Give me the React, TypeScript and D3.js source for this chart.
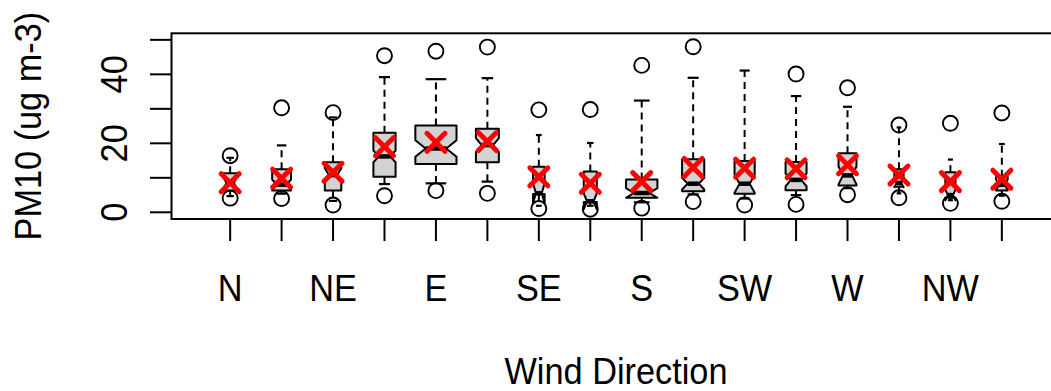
import React from "react";
import * as d3 from "d3";

const categories = ["N", "NNE", "NE", "ENE", "E", "ESE", "SE", "SSE", "S", "SSW", "SW", "WSW", "W", "WNW", "NW", "NNW"];
const xTickLabels = ["N", "", "NE", "", "E", "", "SE", "", "S", "", "SW", "", "W", "", "NW", ""];
const lowerWhisker = [4.7, 5.4, 3.3, 8.2, 8.4, 8.9, 1.9, 1.9, 2.9, 5.2, 4.0, 5.0, 7.0, 5.5, 3.5, 4.8];
const lowerHinge = [6.3, 6.3, 6.3, 10.3, 14.0, 14.5, 5.3, 3.0, 4.2, 6.1, 5.4, 6.4, 7.8, 7.4, 4.2, 6.3];
const medians = [8.5, 8.0, 10.8, 16.2, 18.5, 19.5, 5.5, 3.2, 5.6, 8.3, 8.3, 9.4, 10.7, 8.5, 5.0, 8.0];
const upperHinge = [11.3, 12.5, 14.5, 23.1, 25.2, 24.2, 13.2, 11.8, 9.5, 15.4, 14.9, 14.6, 17.1, 12.5, 11.6, 10.3];
const upperWhisker = [15.8, 19.4, 27.5, 39.2, 38.6, 38.9, 22.4, 20.1, 32.4, 39.0, 41.1, 33.7, 30.6, 24.6, 15.3, 19.8];
const notchHalf = [2.0, 1.5, 2.0, 1.7, 2.4, 2.0, 2.9, 2.3, 1.4, 1.7, 2.6, 1.9, 2.6, 1.2, 1.5, 1.5];
const obsCount = [13, 21, 16, 29, 100, 31, 8, 10, 58, 29, 24, 26, 19, 5, 6, 8];
const outliers = [
  [4.1, 16.4], [4.0, 30.3], [2.1, 28.9], [4.8, 45.4], [6.3, 46.7], [5.5, 47.9],
  [1.1, 29.7], [0.9, 29.8], [1.2, 42.6], [3.1, 48.0], [2.1], [2.3, 40.1],
  [5.1, 36.1], [4.2, 25.3], [2.6, 25.8], [3.2, 28.8],
];
const means = [8.6, 9.9, 11.6, 19.0, 20.3, 20.5, 10.3, 8.4, 8.9, 13.0, 12.8, 12.6, 13.8, 10.8, 8.9, 9.6];
const yTicks = [0, 10, 20, 30, 40, 50];
const yTickLabels = ["0", "", "20", "", "40", ""];
const xTitle = "Wind Direction";
const yTitle = "PM10 (ug m-3)";

const W = 1051;
const H = 391;
const FONT = "'Liberation Sans', Arial, Helvetica, sans-serif";
const FS = 36.5;
const SX = 0.94;

export default function App() {
  const n = categories.length;
  const x = d3.scaleLinear().domain([0.5 - 0.04 * n, n + 0.5 + 0.04 * n]).range([171.5, 1060.5]);
  const y = d3.scaleLinear().domain([-1.94, 51.9]).range([219, 33.3]);
  const step = x(2) - x(1);
  const maxN = d3.max(obsCount) as number;
  const plotLeft = x.range()[0];
  const plotRight = x.range()[1];
  const plotTop = y.range()[1];
  const plotBottom = y.range()[0];

  const boxes = categories.map((c, i) => {
    const cx = x(i + 1);
    const w = (Math.sqrt(obsCount[i] / maxN) * 0.8 * step) / 2;
    const q1 = lowerHinge[i], q3 = upperHinge[i], md = medians[i];
    const c1 = md - notchHalf[i], c2 = md + notchHalf[i];
    const pts: [number, number][] = [
      [cx - w, y(q1)], [cx + w, y(q1)], [cx + w, y(c1)], [cx + w / 2, y(md)], [cx + w, y(c2)],
      [cx + w, y(q3)], [cx - w, y(q3)], [cx - w, y(c2)], [cx - w / 2, y(md)], [cx - w, y(c1)],
    ];
    const poly = pts.map((p) => p.join(",")).join(" ");
    return (
      <g key={c}>
        <line x1={cx} x2={cx} y1={y(upperHinge[i])} y2={y(upperWhisker[i])} stroke="#000" strokeWidth={2} strokeDasharray="7 5" />
        <line x1={cx} x2={cx} y1={y(lowerHinge[i])} y2={y(lowerWhisker[i])} stroke="#000" strokeWidth={2} strokeDasharray="7 5" />
        <line x1={cx - w / 2} x2={cx + w / 2} y1={y(upperWhisker[i])} y2={y(upperWhisker[i])} stroke="#000" strokeWidth={2.2} />
        <line x1={cx - w / 2} x2={cx + w / 2} y1={y(lowerWhisker[i])} y2={y(lowerWhisker[i])} stroke="#000" strokeWidth={2.2} />
        <polygon points={poly} fill="#d3d3d3" stroke="#000" strokeWidth={2} strokeLinejoin="round" />
        <line x1={cx - w / 2} x2={cx + w / 2} y1={y(md)} y2={y(md)} stroke="#000" strokeWidth={4.5} />
        {outliers[i].map((o, j) => (
          <circle key={j} cx={cx} cy={y(o)} r={7.5} fill="none" stroke="#000" strokeWidth={1.9} />
        ))}
      </g>
    );
  });

  const meanMarks = means.map((m, i) => {
    const cx = x(i + 1);
    const cy = y(m);
    const s = 9;
    return (
      <g key={"m" + i} stroke="#ff0000" strokeWidth={5} strokeLinecap="round">
        <line x1={cx - s} y1={cy - s} x2={cx + s} y2={cy + s} />
        <line x1={cx - s} y1={cy + s} x2={cx + s} y2={cy - s} />
      </g>
    );
  });

  return (
    <svg width={W} height={H} style={{ position: "absolute", left: 0, top: 0, background: "#fff" }} fontFamily={FONT}>
      <rect x={0} y={0} width={W} height={H} fill="#fff" />
      {boxes}
      {meanMarks}
      <rect x={plotLeft} y={plotTop} width={plotRight - plotLeft} height={plotBottom - plotTop} fill="none" stroke="#000" strokeWidth={2} />
      {yTicks.map((t, i) => (
        <g key={"yt" + t}>
          <line x1={plotLeft - 21.5} x2={plotLeft} y1={y(t)} y2={y(t)} stroke="#000" strokeWidth={2} />
          {yTickLabels[i] && (
            <text transform={`translate(127,${y(t)}) rotate(-90) scale(${SX},1)`} textAnchor="middle" fontSize={FS} fill="#000">
              {yTickLabels[i]}
            </text>
          )}
        </g>
      ))}
      {categories.map((c, i) => (
        <g key={"xt" + c}>
          <line x1={x(i + 1)} x2={x(i + 1)} y1={plotBottom} y2={plotBottom + 22} stroke="#000" strokeWidth={2} />
          {xTickLabels[i] && (
            <text transform={`translate(${x(i + 1)},301) scale(${SX},1)`} textAnchor="middle" fontSize={FS} fill="#000">
              {xTickLabels[i]}
            </text>
          )}
        </g>
      ))}
      <text transform={`translate(${(plotLeft + plotRight) / 2},383.5) scale(${SX},1)`} textAnchor="middle" fontSize={FS} fill="#000">
        {xTitle}
      </text>
      <text transform={`translate(40.7,${(plotTop + plotBottom) / 2}) rotate(-90) scale(${SX},1)`} textAnchor="middle" fontSize={FS} fill="#000">
        {yTitle}
      </text>
    </svg>
  );
}
